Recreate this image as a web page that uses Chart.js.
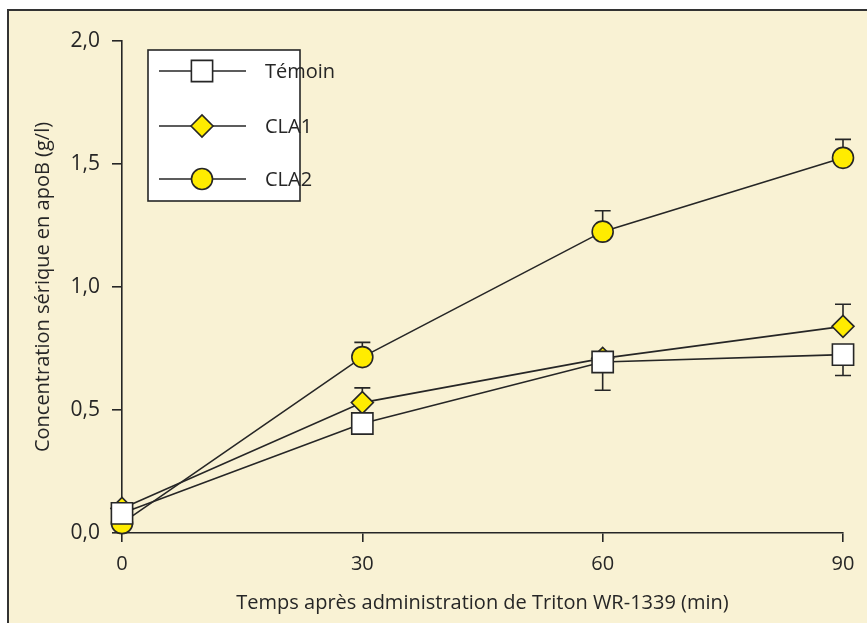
<!DOCTYPE html>
<html>
<head>
<meta charset="utf-8">
<script src="https://cdn.jsdelivr.net/npm/chart.js@4/dist/chart.umd.min.js"></script>
<style>
  html, body { margin: 0; padding: 0; background: #ffffff; }
  #wrap { position: relative; width: 867px; height: 623px; }
</style>
</head>
<body>
<div id="wrap"><canvas id="chart1" width="867" height="623"></canvas></div>
<script>
// time points (min)
const temps = [0, 30, 60, 90];
const xTickLabels = ['0', '30', '60', '90'];
const yTickLabels = ['0,0', '0,5', '1,0', '1,5', '2,0'];

// serum apoB (g/l)
const temoin = [0.08, 0.445, 0.695, 0.725];
const cla1 = [0.10, 0.53, 0.71, 0.84];
const cla2 = [0.04, 0.715, 1.225, 1.525];

// error bars, only one side drawn (up for CLA, down for témoin)
const temoinErrDown = [null, null, 0.115, 0.085];
const cla1ErrUp = [null, 0.06, null, 0.09];
const cla2ErrUp = [null, 0.06, 0.085, 0.075];

const seriesNames = ['Témoin', 'CLA1', 'CLA2'];

const FONT = '"Open Sans", "Noto Sans", sans-serif';
const INK = '#262626';
const YELLOW = '#ffec00';
const CREAM = '#f9f2d4';

const toPts = arr => arr.map((v, i) => ({ x: temps[i], y: v }));

const frame = {
    id: 'frame',
    beforeDraw(chart) {
        const ctx = chart.ctx;
        ctx.save();
        ctx.fillStyle = CREAM;
        ctx.fillRect(8, 10, 880, 640);
        ctx.strokeStyle = '#333';
        ctx.lineWidth = 2;
        ctx.strokeRect(8, 10, 880, 640);
        ctx.restore();
    }
};

const errorBars = {
    id: 'errorBars',
    beforeDatasetsDraw(chart) {
        const ctx = chart.ctx;
        const xs = chart.scales.x, ys = chart.scales.y;
        ctx.save();
        ctx.strokeStyle = INK;
        ctx.lineWidth = 1.6;
        chart.data.datasets.forEach(ds => {
            ds.data.forEach((p, i) => {
                const up = ds.errUp ? ds.errUp[i] : null;
                const down = ds.errDown ? ds.errDown[i] : null;
                const px = xs.getPixelForValue(p.x);
                const py = ys.getPixelForValue(p.y);
                [up, down == null ? null : -down].forEach(e => {
                    if (e == null) return;
                    const ey = ys.getPixelForValue(p.y + e);
                    ctx.beginPath();
                    ctx.moveTo(px, py);
                    ctx.lineTo(px, ey);
                    ctx.moveTo(px - 8, ey);
                    ctx.lineTo(px + 8, ey);
                    ctx.stroke();
                });
            });
        });
        ctx.restore();
    }
};

const legendBox = {
    id: 'legendBox',
    afterDraw(chart) {
        const ctx = chart.ctx;
        const bx = 148, by = 50, bw = 152, bh = 151;
        const rows = [71, 126, 179];
        ctx.save();
        ctx.fillStyle = '#ffffff';
        ctx.fillRect(bx, by, bw, bh);
        ctx.strokeStyle = INK;
        ctx.lineWidth = 1.6;
        ctx.strokeRect(bx, by, bw, bh);
        chart.data.datasets.forEach((ds, i) => {
            const y = rows[i];
            ctx.strokeStyle = INK;
            ctx.lineWidth = 1.6;
            ctx.beginPath();
            ctx.moveTo(159, y);
            ctx.lineTo(246, y);
            ctx.stroke();
            ctx.fillStyle = ds.pointBackgroundColor;
            ctx.strokeStyle = ds.pointBorderColor;
            ctx.lineWidth = ds.pointBorderWidth;
            Chart.helpers.drawPoint(ctx, {
                pointStyle: ds.pointStyle,
                radius: ds.pointRadius,
                rotation: 0,
                borderWidth: ds.pointBorderWidth
            }, 202, y);
            ctx.fillStyle = INK;
            ctx.font = '20px ' + FONT;
            ctx.textBaseline = 'middle';
            ctx.textAlign = 'left';
            ctx.fillText(ds.label, 265, y + 1);
        });
        ctx.restore();
    }
};

const common = {
    borderColor: INK,
    borderWidth: 1.6,
    pointBorderColor: INK,
    pointBorderWidth: 1.6,
    pointHoverRadius: 0,
    tension: 0,
    clip: false
};

new Chart(document.getElementById('chart1'), {
    type: 'line',
    data: {
        datasets: [{
            ...common,
            label: seriesNames[0],
            data: toPts(temoin),
            errDown: temoinErrDown,
            pointStyle: 'rect',
            pointRadius: 15,
            pointBackgroundColor: '#ffffff'
        }, {
            ...common,
            label: seriesNames[1],
            data: toPts(cla1),
            errUp: cla1ErrUp,
            pointStyle: 'rectRot',
            pointRadius: 11,
            pointBackgroundColor: YELLOW
        }, {
            ...common,
            label: seriesNames[2],
            data: toPts(cla2),
            errUp: cla2ErrUp,
            pointStyle: 'circle',
            pointRadius: 10.5,
            pointBackgroundColor: YELLOW
        }]
    },
    options: {
        responsive: false,
        animation: false,
        events: [],
        layout: { padding: { top: 41, right: 24, left: 31, bottom: 0 } },
        plugins: { legend: { display: false }, tooltip: { enabled: false } },
        scales: {
            x: {
                type: 'linear',
                min: 0, max: 90,
                afterFit(scale) { scale.height = 90; },
                afterBuildTicks(scale) {
                    scale.ticks = temps.map(v => ({ value: v }));
                },
                ticks: {
                    color: INK,
                    font: { family: FONT, size: 20 },
                    padding: 10,
                    maxRotation: 0,
                    callback: (v) => xTickLabels[temps.indexOf(v)]
                },
                grid: { drawOnChartArea: false, drawTicks: true, tickLength: 9, color: INK, lineWidth: 1.6 },
                border: { display: true, color: INK, width: 1.6 },
                title: {
                    display: true,
                    text: 'Temps après administration de Triton WR-1339 (min)',
                    color: INK,
                    font: { family: FONT, size: 20 },
                    padding: { top: 0, bottom: 8 }
                }
            },
            y: {
                min: 0, max: 2,
                afterFit(scale) { scale.width = 91; },
                ticks: {
                    stepSize: 0.5,
                    color: INK,
                    font: { family: FONT, size: 21 },
                    padding: 12,
                    callback: (v) => yTickLabels[Math.round(v / 0.5)]
                },
                grid: { drawOnChartArea: false, drawTicks: true, tickLength: 10, color: INK, lineWidth: 1.6 },
                border: { display: true, color: INK, width: 1.6 },
                title: {
                    display: true,
                    text: 'Concentration sérique en apoB (g/l)',
                    color: INK,
                    font: { family: FONT, size: 20 },
                    padding: { top: 0, bottom: 0 }
                }
            }
        }
    },
    plugins: [frame, errorBars, legendBox]
});
</script>
</body>
</html>
